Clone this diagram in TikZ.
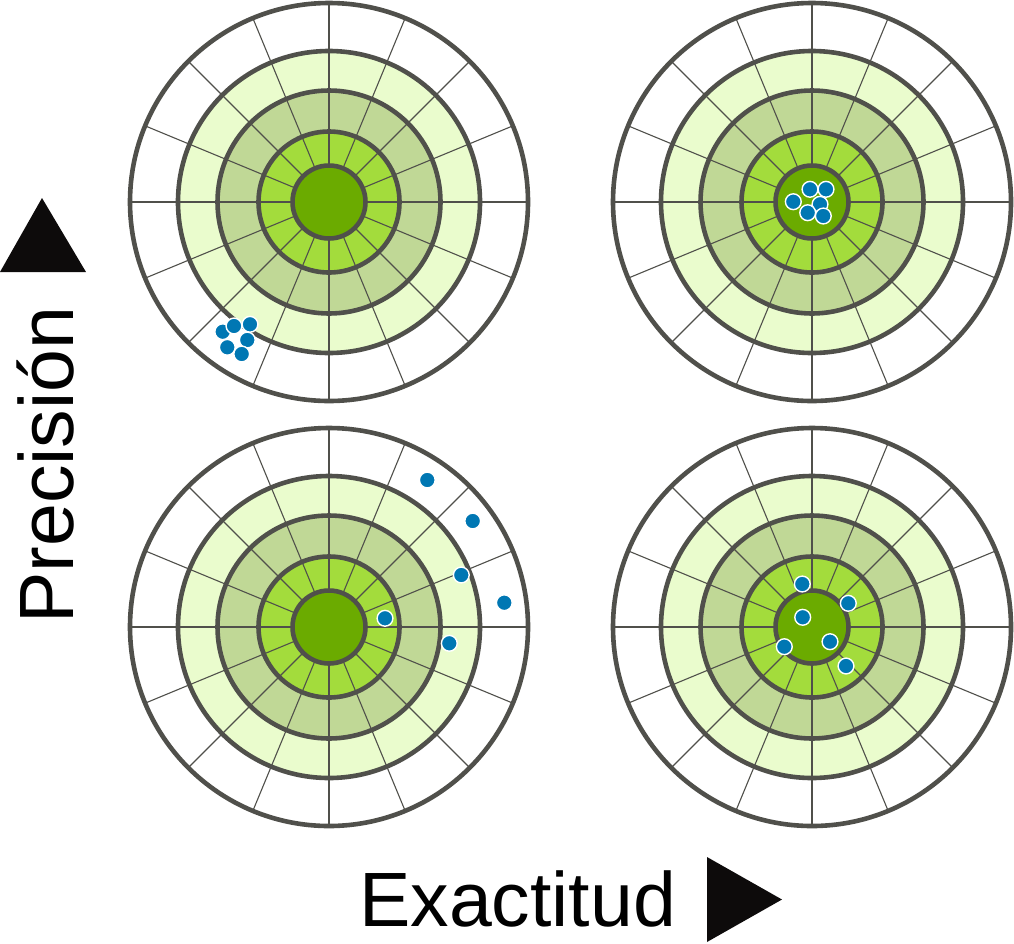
\documentclass[tikz,border=0pt]{standalone}
\usepackage{fontspec}
\setmainfont{Liberation Sans}
\usetikzlibrary{positioning}

\definecolor{ringgrey}{RGB}{80,80,75}
\definecolor{palegreen}{RGB}{234,252,205}
\definecolor{sagegreen}{RGB}{192,216,150}
\definecolor{limegreen}{RGB}{163,220,60}
\definecolor{bullgreen}{RGB}{107,171,0}
\definecolor{shotblue}{RGB}{0,119,179}
\definecolor{tipblack}{RGB}{13,11,11}

\begin{document}
\begin{tikzpicture}[x=1pt,y=-1pt,
  ring/.style={draw=ringgrey,line width=4.6pt},
  spoke/.style={draw=ringgrey,line width=1.1pt},
  axisspoke/.style={draw=ringgrey,line width=2pt},
  shot/.style={fill=shotblue,draw=white,line width=1.4pt},
  axislabel/.style={font=\fontsize{77}{92}\selectfont,inner sep=0pt}]
\useasboundingbox (0,0) rectangle (1014,943);

% Targets
\foreach \cx/\cy in {329/202, 812/202, 329/627, 812/627} {
  \begin{scope}[shift={(\cx,\cy)}]
    % coloured rings
    \fill[white] (0,0) circle[radius=199pt];
    \fill[palegreen] (0,0) circle[radius=151pt];
    \fill[sagegreen] (0,0) circle[radius=111.5pt];
    \fill[limegreen] (0,0) circle[radius=70.5pt];
    \fill[bullgreen] (0,0) circle[radius=36.5pt];
    % spokes
    \foreach \a in {0,22.5,...,337.5}
      \draw[spoke] (\a:36.5pt) -- (\a:199pt);
    \foreach \a in {0,90,180,270}
      \draw[axisspoke] (\a:36.5pt) -- (\a:199pt);
    % ring borders
    \foreach \r in {36.5,70.5,111.5,151,199}
      \draw[ring] (0,0) circle[radius=\r pt];
  \end{scope}
}

% Shots: low accuracy, high precision
\foreach \x/\y in {222.7/331.7, 234/326, 250/324.3, 227.3/347.3, 247.3/340, 241.7/354}
  \filldraw[shot] (\x,\y) circle[radius=7.9pt];

% Shots: high accuracy, high precision
\foreach \x/\y in {820/204.3, 793.3/201.7, 810/189.3, 826/189.3, 807.7/212.7, 823.3/216}
  \filldraw[shot] (\x,\y) circle[radius=7.9pt];

% Shots: low accuracy, low precision
\foreach \x/\y in {427.3/480, 472.7/521, 461.3/575, 504.3/602.7, 385/618.3, 449.3/643.3}
  \filldraw[shot] (\x,\y) circle[radius=7.9pt];

% Shots: high accuracy, low precision
\foreach \x/\y in {802.3/584, 848.3/603.3, 802.7/617.3, 784.3/646.7, 830/641.7, 846/666}
  \filldraw[shot] (\x,\y) circle[radius=7.9pt];

% Axis labels
\node[axislabel,anchor=base west,rotate=90] (precision) at (73,624) {Precisión};
\node[axislabel,anchor=base west] (exactitud) at (359,926) {Exactitud};

% Direction triangles
\fill[tipblack] (0,272) -- (86,272) -- (42,198) -- cycle;
\fill[tipblack] (707,857) -- (707,942) -- (782,899.5) -- cycle;
\end{tikzpicture}
\end{document}
